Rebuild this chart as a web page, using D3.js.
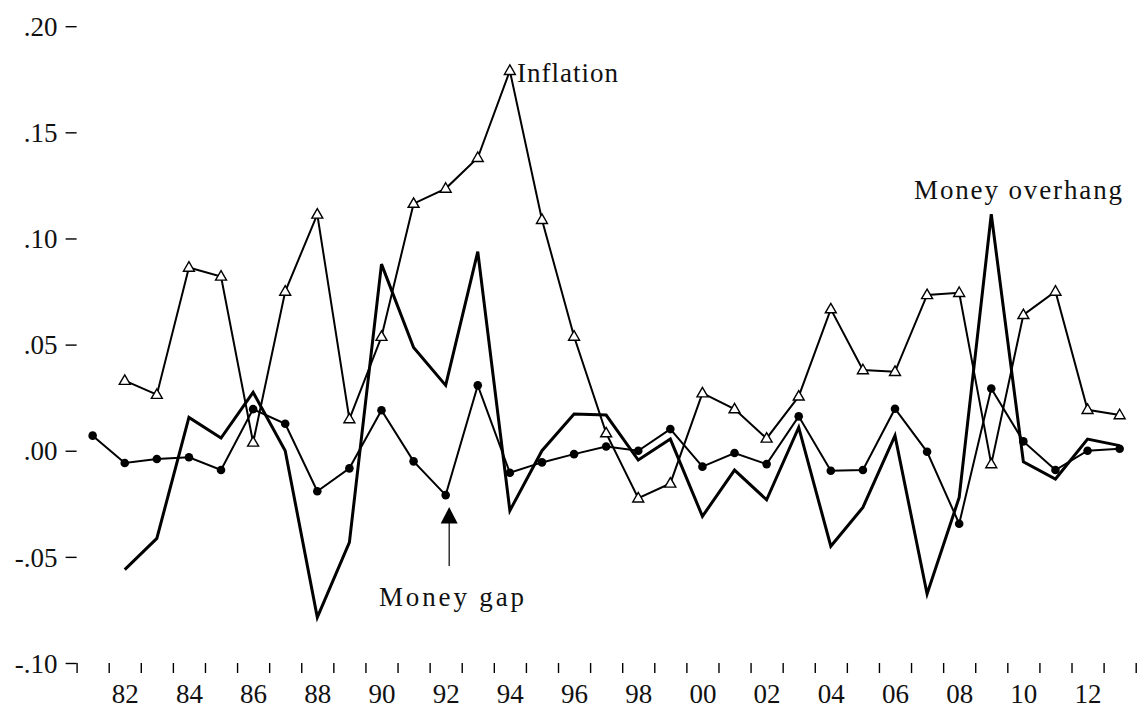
<!DOCTYPE html>
<html>
<head>
<meta charset="utf-8">
<script src="https://cdn.jsdelivr.net/npm/d3@7"></script>
<style>
	body { margin: 0; background: #fff; }
	svg { display: block; font-family: "Liberation Serif", "Times New Roman", serif; }
</style>
</head>
<body>
<div id="chart"></div>
<script>
var years = d3.range(1981, 2014);

// money gap, 1981-2013
var moneyGap = [0.0071, -0.0058, -0.0039, -0.0031, -0.0091, 0.0196, 0.0127, -0.0191, -0.0083, 0.0191,
	-0.0050, -0.0209, 0.0308, -0.0104, -0.0055, -0.0016, 0.0020, 0.0000, 0.0102, -0.0075,
	-0.0011, -0.0063, 0.0162, -0.0094, -0.0091, 0.0198, -0.0005, -0.0344, 0.0293, 0.0044,
	-0.0091, 0.0000, 0.0009];

// inflation, 1982-2013
var inflation = [0.0330, 0.0264, 0.0863, 0.0821, 0.0039, 0.0750, 0.1113, 0.0149, 0.0537, 0.1164,
	0.1235, 0.1380, 0.1790, 0.1088, 0.0538, 0.0083, -0.0224, -0.0154, 0.0271, 0.0196,
	0.0058, 0.0256, 0.0667, 0.0380, 0.0372, 0.0734, 0.0744, -0.0063, 0.0640, 0.0750,
	0.0193, 0.0168];

// money overhang, 1982-2013
var overhang = [-0.0560, -0.0413, 0.0157, 0.0060, 0.0275, 0.0000, -0.0785, -0.0432, 0.0879, 0.0486,
	0.0308, 0.0938, -0.0282, 0.0000, 0.0173, 0.0168, -0.0044, 0.0055, -0.0309, -0.0091,
	-0.0231, 0.0110, -0.0450, -0.0267, 0.0071, -0.0675, -0.0220, 0.1114, -0.0052, -0.0133,
	0.0055, 0.0024];

var yTicks = [-0.10, -0.05, 0.00, 0.05, 0.10, 0.15, 0.20];
var yTickLabels = ['-.10', '-.05', '.00', '.05', '.10', '.15', '.20'];
var xLabelYears = d3.range(1982, 2013, 2);

var width = 1137, height = 709;
var svg = d3.select('#chart').append('svg').attr('width', width).attr('height', height);

var x = d3.scaleLinear().domain([1980.5, 2013.5]).range([76.6, 1135.7]);
var y = d3.scaleLinear().domain([-0.10, 0.20]).range([663, 26.2]);

var gapData = years.map(function (yr, i) { return { year: yr, value: moneyGap[i] }; });
var inflData = years.slice(1).map(function (yr, i) { return { year: yr, value: inflation[i] }; });
var ohData = years.slice(1).map(function (yr, i) { return { year: yr, value: overhang[i] }; });

// y axis
var yAxis = svg.append('g')
	.attr('transform', 'translate(' + x(1980.5) + ',0)')
	.call(d3.axisLeft(y).tickValues(yTicks).tickSize(11).tickPadding(8)
		.tickFormat(function (d, i) { return yTickLabels[i]; }));
yAxis.select('.domain').remove();
yAxis.selectAll('line').attr('stroke', '#000').attr('stroke-width', 1.4);
yAxis.selectAll('text')
	.attr('font-size', 27)
	.attr('font-family', '"Liberation Serif", "Times New Roman", serif')
	.attr('fill', '#111')
	.attr('dy', '0.34em');

// x axis ticks
var xTickVals = d3.range(1980.5, 2014, 1);
var xAxis = svg.append('g')
	.attr('transform', 'translate(0,' + y(-0.10) + ')')
	.call(d3.axisBottom(x).tickValues(xTickVals).tickSize(10).tickFormat(''));
xAxis.select('.domain').remove();
xAxis.selectAll('line').attr('stroke', '#000').attr('stroke-width', 1.4);

var xLab = svg.append('g')
	.attr('transform', 'translate(0,' + y(-0.10) + ')')
	.call(d3.axisBottom(x).tickValues(xLabelYears).tickSize(0).tickPadding(0)
		.tickFormat(function (d) { return d3.format('02')(d % 100); }));
xLab.select('.domain').remove();
xLab.selectAll('text')
	.attr('font-size', 27)
	.attr('font-family', '"Liberation Serif", "Times New Roman", serif')
	.attr('fill', '#111')
	.attr('dy', 0)
	.attr('y', 40);

var line = d3.line().x(function (d) { return x(d.year); }).y(function (d) { return y(d.value); });

svg.append('path').datum(ohData).attr('d', line)
	.attr('fill', 'none').attr('stroke', '#000').attr('stroke-width', 3).attr('stroke-linejoin', 'miter');
svg.append('path').datum(gapData).attr('d', line)
	.attr('fill', 'none').attr('stroke', '#000').attr('stroke-width', 2);
svg.append('path').datum(inflData).attr('d', line)
	.attr('fill', 'none').attr('stroke', '#000').attr('stroke-width', 2);

svg.selectAll('.dot').data(gapData).enter().append('circle')
	.attr('class', 'dot')
	.attr('cx', function (d) { return x(d.year); })
	.attr('cy', function (d) { return y(d.value); })
	.attr('r', 4.3)
	.attr('fill', '#000');

var tri = d3.symbol().type(d3.symbolTriangle).size(52);
svg.selectAll('.tri').data(inflData).enter().append('path')
	.attr('class', 'tri')
	.attr('d', tri)
	.attr('transform', function (d) { return 'translate(' + x(d.year) + ',' + (y(d.value) + 0.5) + ')'; })
	.attr('fill', '#fff')
	.attr('stroke', '#000')
	.attr('stroke-width', 1.4);

// annotations
svg.append('text').attr('x', 517).attr('y', 82)
	.attr('font-size', 27).attr('letter-spacing', 1).attr('fill', '#111')
	.text('Inflation');

svg.append('text').attr('x', 914).attr('y', 199)
	.attr('font-size', 27).attr('fill', '#111')
	.attr('textLength', 208).attr('lengthAdjust', 'spacing')
	.text('Money overhang');

svg.append('text').attr('x', 379).attr('y', 606)
	.attr('font-size', 27).attr('fill', '#111')
	.attr('textLength', 145).attr('lengthAdjust', 'spacing')
	.text('Money gap');

var ax = x(1992) + 3.5;
var tipY = y(moneyGap[11]) + 12;
svg.append('line').attr('x1', ax).attr('x2', ax).attr('y1', tipY + 14).attr('y2', 566)
	.attr('stroke', '#000').attr('stroke-width', 1.2);
svg.append('path')
	.attr('d', 'M' + ax + ',' + tipY + 'L' + (ax + 8.5) + ',' + (tipY + 16.5) + 'L' + (ax - 8.5) + ',' + (tipY + 16.5) + 'Z')
	.attr('fill', '#000');
</script>
</body>
</html>
